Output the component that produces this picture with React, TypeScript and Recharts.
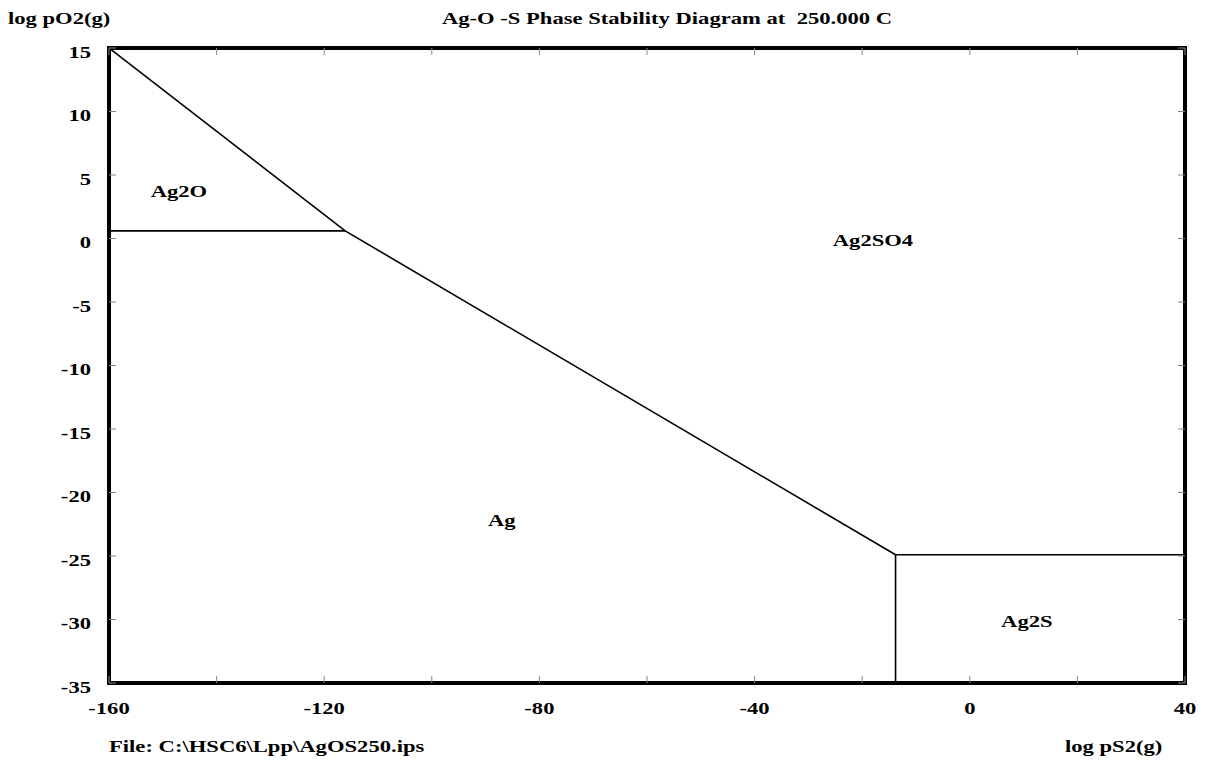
import { ComposedChart, Line, Scatter, XAxis, YAxis } from "recharts";

const xTicks = [-160, -140, -120, -100, -80, -60, -40, -20, 0, 20, 40];
const xLabelTicks = [-160, -120, -80, -40, 0, 40];
const yTicks = [-35, -30, -25, -20, -15, -10, -5, 0, 5, 10, 15];

// phase boundaries (log pS2, log pO2)
const ag2oSulfateLine = [
  { x: -160, y: 15 },
  { x: -116.1, y: 0.6 },
];
const ag2oAgLine = [
  { x: -160, y: 0.6 },
  { x: -116.1, y: 0.6 },
];
const agSulfateLine = [
  { x: -116.1, y: 0.6 },
  { x: -13.8, y: -24.9 },
];
const sulfideSulfateLine = [
  { x: -13.8, y: -24.9 },
  { x: 40, y: -24.9 },
];
const agSulfideLine = [
  { x: -13.8, y: -24.9 },
  { x: -13.8, y: -35 },
];

const regionLabels = [
  { name: "Ag2O", x: -147, y: 3.3 },
  { name: "Ag2SO4", x: -18, y: -0.6 },
  { name: "Ag", x: -87, y: -22.6 },
  { name: "Ag2S", x: 10.6, y: -30.6 },
];

const FONT = "'Liberation Serif', 'Times New Roman', serif";
const STRETCH = 1.33;
const TICK_LEN = 7;

function WideText({ x, y, anchor = "start", children }: any) {
  return (
    <text
      transform={`translate(${x} ${y}) scale(${STRETCH} 1)`}
      textAnchor={anchor}
      fontFamily={FONT}
      fontWeight="bold"
      fontSize={17}
      fill="#000"
      style={{ whiteSpace: "pre" }}
    >
      {children}
    </text>
  );
}

const bottomTick = (props: any) => {
  const { x, y, payload } = props;
  return (
    <g>
      <line x1={x} y1={y} x2={x} y2={y - TICK_LEN} stroke="#888" strokeWidth={1} />
      {xLabelTicks.includes(payload.value) && (
        <WideText x={x} y={y + 31} anchor="middle">
          {payload.value}
        </WideText>
      )}
    </g>
  );
};

const topTick = (props: any) => {
  const { x, y } = props;
  return <line x1={x} y1={y} x2={x} y2={y + TICK_LEN} stroke="#888" strokeWidth={1} />;
};

const leftTick = (props: any) => {
  const { x, y, payload } = props;
  return (
    <g>
      <line x1={x} y1={y} x2={x + TICK_LEN} y2={y} stroke="#888" strokeWidth={1} />
      <WideText x={x - 18} y={y + 9.5} anchor="end">
        {payload.value}
      </WideText>
    </g>
  );
};

const rightTick = (props: any) => {
  const { x, y } = props;
  return <line x1={x} y1={y} x2={x - TICK_LEN} y2={y} stroke="#888" strokeWidth={1} />;
};

const frame = { stroke: "#000", strokeWidth: 4, strokeLinecap: "square" as const };
const boundary = { stroke: "#000", strokeWidth: 1.6, dot: false, isAnimationActive: false, dataKey: "y" };

const labelShape = (props: any) => (
  <WideText x={props.cx} y={props.cy} anchor="middle">
    {props.payload.name}
  </WideText>
);

export default function App() {
  return (
    <div style={{ position: "absolute", left: 0, top: 0, width: 1210, height: 767, background: "#fff" }}>
      <ComposedChart width={1210} height={767} margin={{ top: 47, right: 24, bottom: 54, left: 49 }}>
        <XAxis
          dataKey="x"
          type="number"
          domain={[-160, 40]}
          ticks={xTicks}
          interval={0}
          allowDataOverflow
          height={30}
          tickSize={0}
          tickMargin={0}
          axisLine={frame}
          tickLine={false}
          tick={bottomTick}
        />
        <XAxis
          xAxisId="top"
          orientation="top"
          dataKey="x"
          type="number"
          domain={[-160, 40]}
          ticks={xTicks}
          interval={0}
          allowDataOverflow
          height={1}
          tickSize={0}
          tickMargin={0}
          axisLine={frame}
          tickLine={false}
          tick={topTick}
        />
        <YAxis
          dataKey="y"
          type="number"
          domain={[-35, 15]}
          ticks={yTicks}
          interval={0}
          allowDataOverflow
          width={60}
          tickSize={0}
          tickMargin={0}
          axisLine={frame}
          tickLine={false}
          tick={leftTick}
        />
        <YAxis
          yAxisId="right"
          orientation="right"
          dataKey="y"
          type="number"
          domain={[-35, 15]}
          ticks={yTicks}
          interval={0}
          allowDataOverflow
          width={1}
          tickSize={0}
          tickMargin={0}
          axisLine={frame}
          tickLine={false}
          tick={rightTick}
        />
        <Line data={ag2oSulfateLine} {...boundary} />
        <Line data={ag2oAgLine} {...boundary} />
        <Line data={agSulfateLine} {...boundary} />
        <Line data={sulfideSulfateLine} {...boundary} />
        <Line data={agSulfideLine} {...boundary} />
        <Scatter data={regionLabels} dataKey="y" shape={labelShape} isAnimationActive={false} />
      </ComposedChart>
      <svg
        width={1210}
        height={767}
        style={{ position: "absolute", left: 0, top: 0, pointerEvents: "none" }}
      >
        <WideText x={8} y={24}>log pO2(g)</WideText>
        <WideText x={667} y={24} anchor="middle">
          Ag-O -S Phase Stability Diagram at  250.000 C
        </WideText>
        <WideText x={109} y={752}>File: C:\HSC6\Lpp\AgOS250.ips</WideText>
        <WideText x={1065} y={752}>log pS2(g)</WideText>
      </svg>
    </div>
  );
}
